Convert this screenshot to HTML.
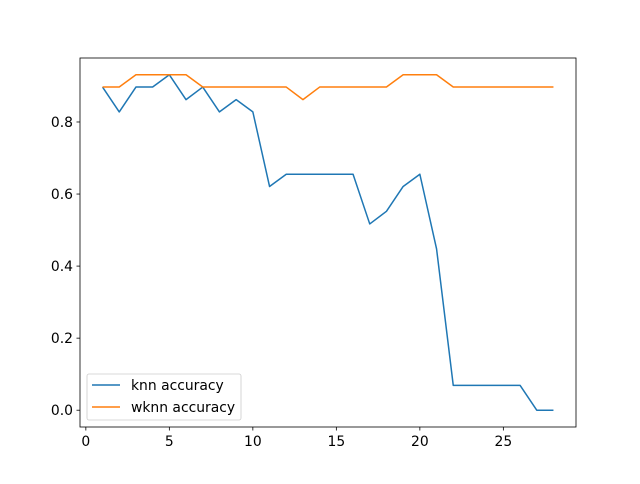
<!DOCTYPE html>
<html><head><meta charset="utf-8"><style>
body{margin:0;background:#fff;font-family:"DejaVu Sans","Liberation Sans",sans-serif}
</style></head><body>
<svg id="chart" width="640" height="480" xmlns="http://www.w3.org/2000/svg" font-family="DejaVu Sans, Liberation Sans, sans-serif"></svg>
<script>
const xs=[1,2,3,4,5,6,7,8,9,10,11,12,13,14,15,16,17,18,19,20,21,22,23,24,25,26,27,28];
const knn=[.897,.828,.897,.897,.931,.862,.897,.828,.862,.828,.621,.655,.655,.655,.655,.655,.517,.552,.621,.655,.448,.069,.069,.069,.069,.069,0,0];
const wknn=[.897,.897,.931,.931,.931,.931,.897,.897,.897,.897,.897,.897,.862,.897,.897,.897,.897,.897,.931,.931,.931,.897,.897,.897,.897,.897,.897,.897];
const xTicks=[0,5,10,15,20,25];
const yTicks=[0,0.2,0.4,0.6,0.8];
const L=80,R=576,T=58,B=427;
const xmin=-0.35,xmax=29.35,ymin=-0.0466,ymax=0.9776;
const sx=v=>L+(v-xmin)/(xmax-xmin)*(R-L);
const sy=v=>B-(v-ymin)/(ymax-ymin)*(B-T);
const svg=document.getElementById('chart');
const NS='http://www.w3.org/2000/svg';
function mk(t,a,p){const e=document.createElementNS(NS,t);for(const k in a)e.setAttribute(k,a[k]);(p||svg).appendChild(e);return e;}
const frame=mk('rect',{x:L,y:T,width:R-L,height:B-T,fill:'none',stroke:'#000','stroke-width':0.8});


xTicks.forEach(t=>{const x=sx(t);
const l=mk('line',{x1:x,x2:x,y1:B,y2:B+3.5,stroke:'#000','stroke-width':0.8});


const tx=mk('text',{x:x,y:B+19,'font-size':13.9,'text-anchor':'middle'});tx.textContent=t;

});
yTicks.forEach(t=>{const y=sy(t);
const l=mk('line',{x1:L-3.5,x2:L,y1:y,y2:y,stroke:'#000','stroke-width':0.8});


const tx=mk('text',{x:L-7,y:y+5,'font-size':13.9,'text-anchor':'end'});tx.textContent=t.toFixed(1);

});
function line(vals,color,name){const p=mk('polyline',{points:xs.map((x,i)=>sx(x)+','+sy(vals[i])).join(' '),fill:'none',stroke:color,'stroke-width':1.5,'stroke-linejoin':'round'});

}
line(knn,'#1f77b4','knn-accuracy-line');
line(wknn,'#ff7f0e','wknn-accuracy-line');
const lg=mk('g',{});


mk('rect',{x:87,y:374,width:154,height:46,rx:2,fill:'#fff',stroke:'#ccc','stroke-width':0.8},lg);
[['knn accuracy','#1f77b4',385],['wknn accuracy','#ff7f0e',407]].forEach(([n,c,y])=>{
mk('line',{x1:92,x2:120,y1:y,y2:y,stroke:c,'stroke-width':1.5},lg);
const t=mk('text',{x:131,y:y+5,'font-size':13.9},lg);t.textContent=n;

});
</script>
</body></html>
